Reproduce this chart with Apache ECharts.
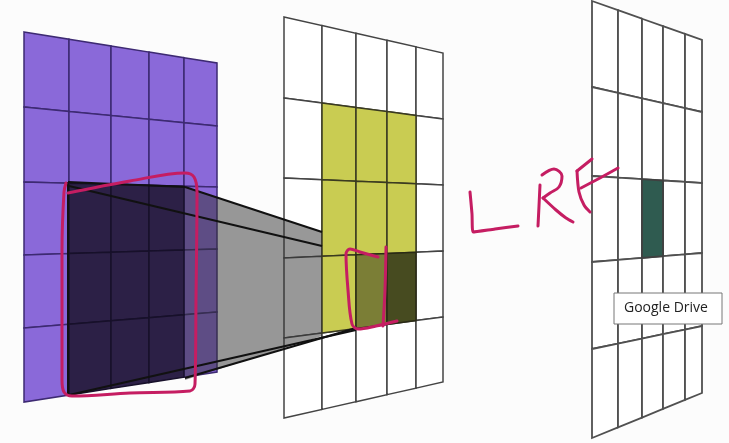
<!DOCTYPE html>
<html>
<head>
<meta charset="utf-8">
<script src="https://cdn.jsdelivr.net/npm/echarts@6/dist/echarts.min.js"></script>
<style>
html, body { margin: 0; padding: 0; background: #fcfcfc; }
#main { width: 729px; height: 443px; }
</style>
</head>
<body>
<div id="main"></div>
<script>
// three planes: x of the column lines, y of the row lines on the left and right edge
var leftCols = [24, 69, 111, 149, 184, 217];
var leftRowsL = [32, 107, 182, 255, 328, 402];
var leftRowsR = [63, 126, 187, 249, 312, 372];
var midCols = [284, 322, 356, 387, 416, 443];
var midRowsL = [17, 98, 178, 258, 338, 418];
var midRowsR = [53, 119, 185, 251, 317, 382];
var rightCols = [592, 618, 642, 663, 685, 702];
var rightRowsL = [1, 87, 176, 262, 349, 438];
var rightRowsR = [40, 112, 183, 253, 326, 393];

// coloured cells [col, row]
var leftDarkCells = [[1, 2], [2, 2], [3, 2], [1, 3], [2, 3], [3, 3], [1, 4], [2, 4], [3, 4]];
var midYellowCells = [[1, 1], [2, 1], [3, 1], [1, 2], [2, 2], [3, 2], [1, 3]];
var midOliveCells = [[2, 3]];
var midDeepCells = [[3, 3]];
var rightTealCells = [[2, 2]];

// projection between plane 1 and plane 2
var shadePoly = [[185, 187], [322, 232], [322, 336], [185, 380]];
var edgeLines = [
    [[68, 182], [185, 187]],
    [[68, 182], [68, 396]],
    [[185, 187], [322, 232]],
    [[69, 186], [322, 246]],
    [[69, 395], [356, 330]],
    [[185, 378], [356, 328]]
];

// handwriting
var boxStroke = [[68, 193], [130, 181], [185, 173], [194, 177], [197, 192], [196, 300], [195, 384], [190, 391], [130, 393], [72, 396], [64, 392], [62, 380], [62, 250], [64, 192], [66, 183]];
var cupStroke = [[378, 257], [360, 252], [350, 249], [346, 254], [348, 290], [352, 324], [358, 329], [376, 326], [397, 321]];
var cupRight = [[386, 247], [385, 290], [383, 326]];
var letterL = [[470, 192], [472, 214], [473, 232], [495, 229], [518, 226]];
var letterRStem = [[540, 185], [539, 206], [538, 226]];
var letterRBowl = [[542, 175], [554, 169], [562, 176], [559, 187], [550, 193], [543, 198]];
var letterRLeg = [[543, 198], [556, 210], [566, 218], [573, 222]];
var letterFTop = [[577, 171], [592, 159]];
var letterFStem = [[577, 171], [579, 192], [584, 205], [590, 212]];
var letterFBar = [[581, 188], [600, 178], [618, 168]];

var tipBox = [[614, 293, 722, 324]];
var tipText = 'Google Drive';

var ink = '#c51d62';

function buildCells(base, line, groups) {
    var out = [];
    var special = [];
    for (var r = 0; r < 5; r++) {
        for (var c = 0; c < 5; c++) {
            var hit = null;
            groups.forEach(function (g) {
                g.cells.forEach(function (cell) {
                    if (cell[0] === c && cell[1] === r) hit = g;
                });
            });
            if (hit) {
                special.push({value: [c, r], fill: hit.fill, line: hit.line || line});
            } else {
                out.push({value: [c, r], fill: base, line: line});
            }
        }
    }
    return out.concat(special);
}

function planeSeries(cols, rowsL, rowsR, cells, lw, z) {
    var last = cols.length - 1;
    function p(i, j) {
        var x = cols[i];
        var t = (x - cols[0]) / (cols[last] - cols[0]);
        return [x, rowsL[j] + (rowsR[j] - rowsL[j]) * t];
    }
    return {
        type: 'custom',
        z: z,
        silent: true,
        data: cells.map(function (d) { return d.value; }),
        renderItem: function (params, api) {
            var d = cells[params.dataIndex];
            var c = d.value[0], r = d.value[1];
            var pts = [p(c, r), p(c + 1, r), p(c + 1, r + 1), p(c, r + 1)].map(function (q) {
                return api.coord(q);
            });
            return {
                type: 'polygon',
                shape: {points: pts},
                style: {fill: d.fill, stroke: d.line, lineWidth: lw}
            };
        }
    };
}

function inkSeries(points, smooth) {
    return {
        type: 'line',
        data: points,
        smooth: smooth,
        symbol: 'none',
        silent: true,
        z: 10,
        lineStyle: {color: ink, width: 3, cap: 'round', join: 'round'}
    };
}

var leftCells = buildCells('#8a69d9', '#3d2a72', [
    {cells: leftDarkCells, fill: '#2c2046', line: '#17102a'}
]);
var midCells = buildCells('#ffffff', '#444444', [
    {cells: midYellowCells, fill: '#c9cc52', line: '#3a3a20'},
    {cells: midOliveCells, fill: '#7b7e36', line: '#2a2a15'},
    {cells: midDeepCells, fill: '#474b20', line: '#2a2a15'}
]);
var rightCells = buildCells('#ffffff', '#505050', [
    {cells: rightTealCells, fill: '#2f5b50', line: '#404040'}
]);

var chart = echarts.init(document.getElementById('main'));
chart.setOption({
    animation: false,
    backgroundColor: '#fcfcfc',
    grid: {left: 0, right: 0, top: 0, bottom: 0},
    xAxis: {type: 'value', min: 0, max: 729, show: false},
    yAxis: {type: 'value', min: 0, max: 443, inverse: true, show: false},
    series: [
        planeSeries(leftCols, leftRowsL, leftRowsR, leftCells, 1.5, 1),
        planeSeries(midCols, midRowsL, midRowsR, midCells, 1.5, 2),
        {
            type: 'custom',
            z: 3,
            silent: true,
            data: [0],
            renderItem: function (params, api) {
                return {
                    type: 'polygon',
                    shape: {points: shadePoly.map(function (q) { return api.coord(q); })},
                    style: {fill: 'rgba(50,50,50,0.5)'}
                };
            }
        },
        {
            type: 'lines',
            coordinateSystem: 'cartesian2d',
            z: 4,
            silent: true,
            data: edgeLines.map(function (c) { return {coords: c}; }),
            lineStyle: {color: '#111111', width: 2, opacity: 1, curveness: 0}
        },
        planeSeries(rightCols, rightRowsL, rightRowsR, rightCells, 1.8, 5),
        inkSeries(boxStroke, 0.35),
        inkSeries(cupStroke, 0.35),
        inkSeries(cupRight, 0.35),
        inkSeries(letterL, 0.2),
        inkSeries(letterRStem, 0.2),
        inkSeries(letterRBowl, 0.35),
        inkSeries(letterRLeg, 0.2),
        inkSeries(letterFTop, false),
        inkSeries(letterFStem, 0.3),
        inkSeries(letterFBar, 0.2),
        {
            type: 'custom',
            z: 20,
            silent: true,
            data: tipBox,
            renderItem: function (params, api) {
                var a = api.coord([api.value(0), api.value(1)]);
                var b = api.coord([api.value(2), api.value(3)]);
                return {
                    type: 'group',
                    children: [{
                        type: 'rect',
                        shape: {x: a[0], y: a[1], width: b[0] - a[0], height: b[1] - a[1]},
                        style: {fill: '#ffffff', stroke: '#767676', lineWidth: 1}
                    }, {
                        type: 'text',
                        x: a[0] + 10,
                        y: (a[1] + b[1]) / 2,
                        style: {
                            text: tipText,
                            font: '14px "Open Sans", sans-serif',
                            fill: '#222222',
                            verticalAlign: 'middle'
                        }
                    }]
                };
            }
        }
    ]
});
</script>
</body>
</html>
